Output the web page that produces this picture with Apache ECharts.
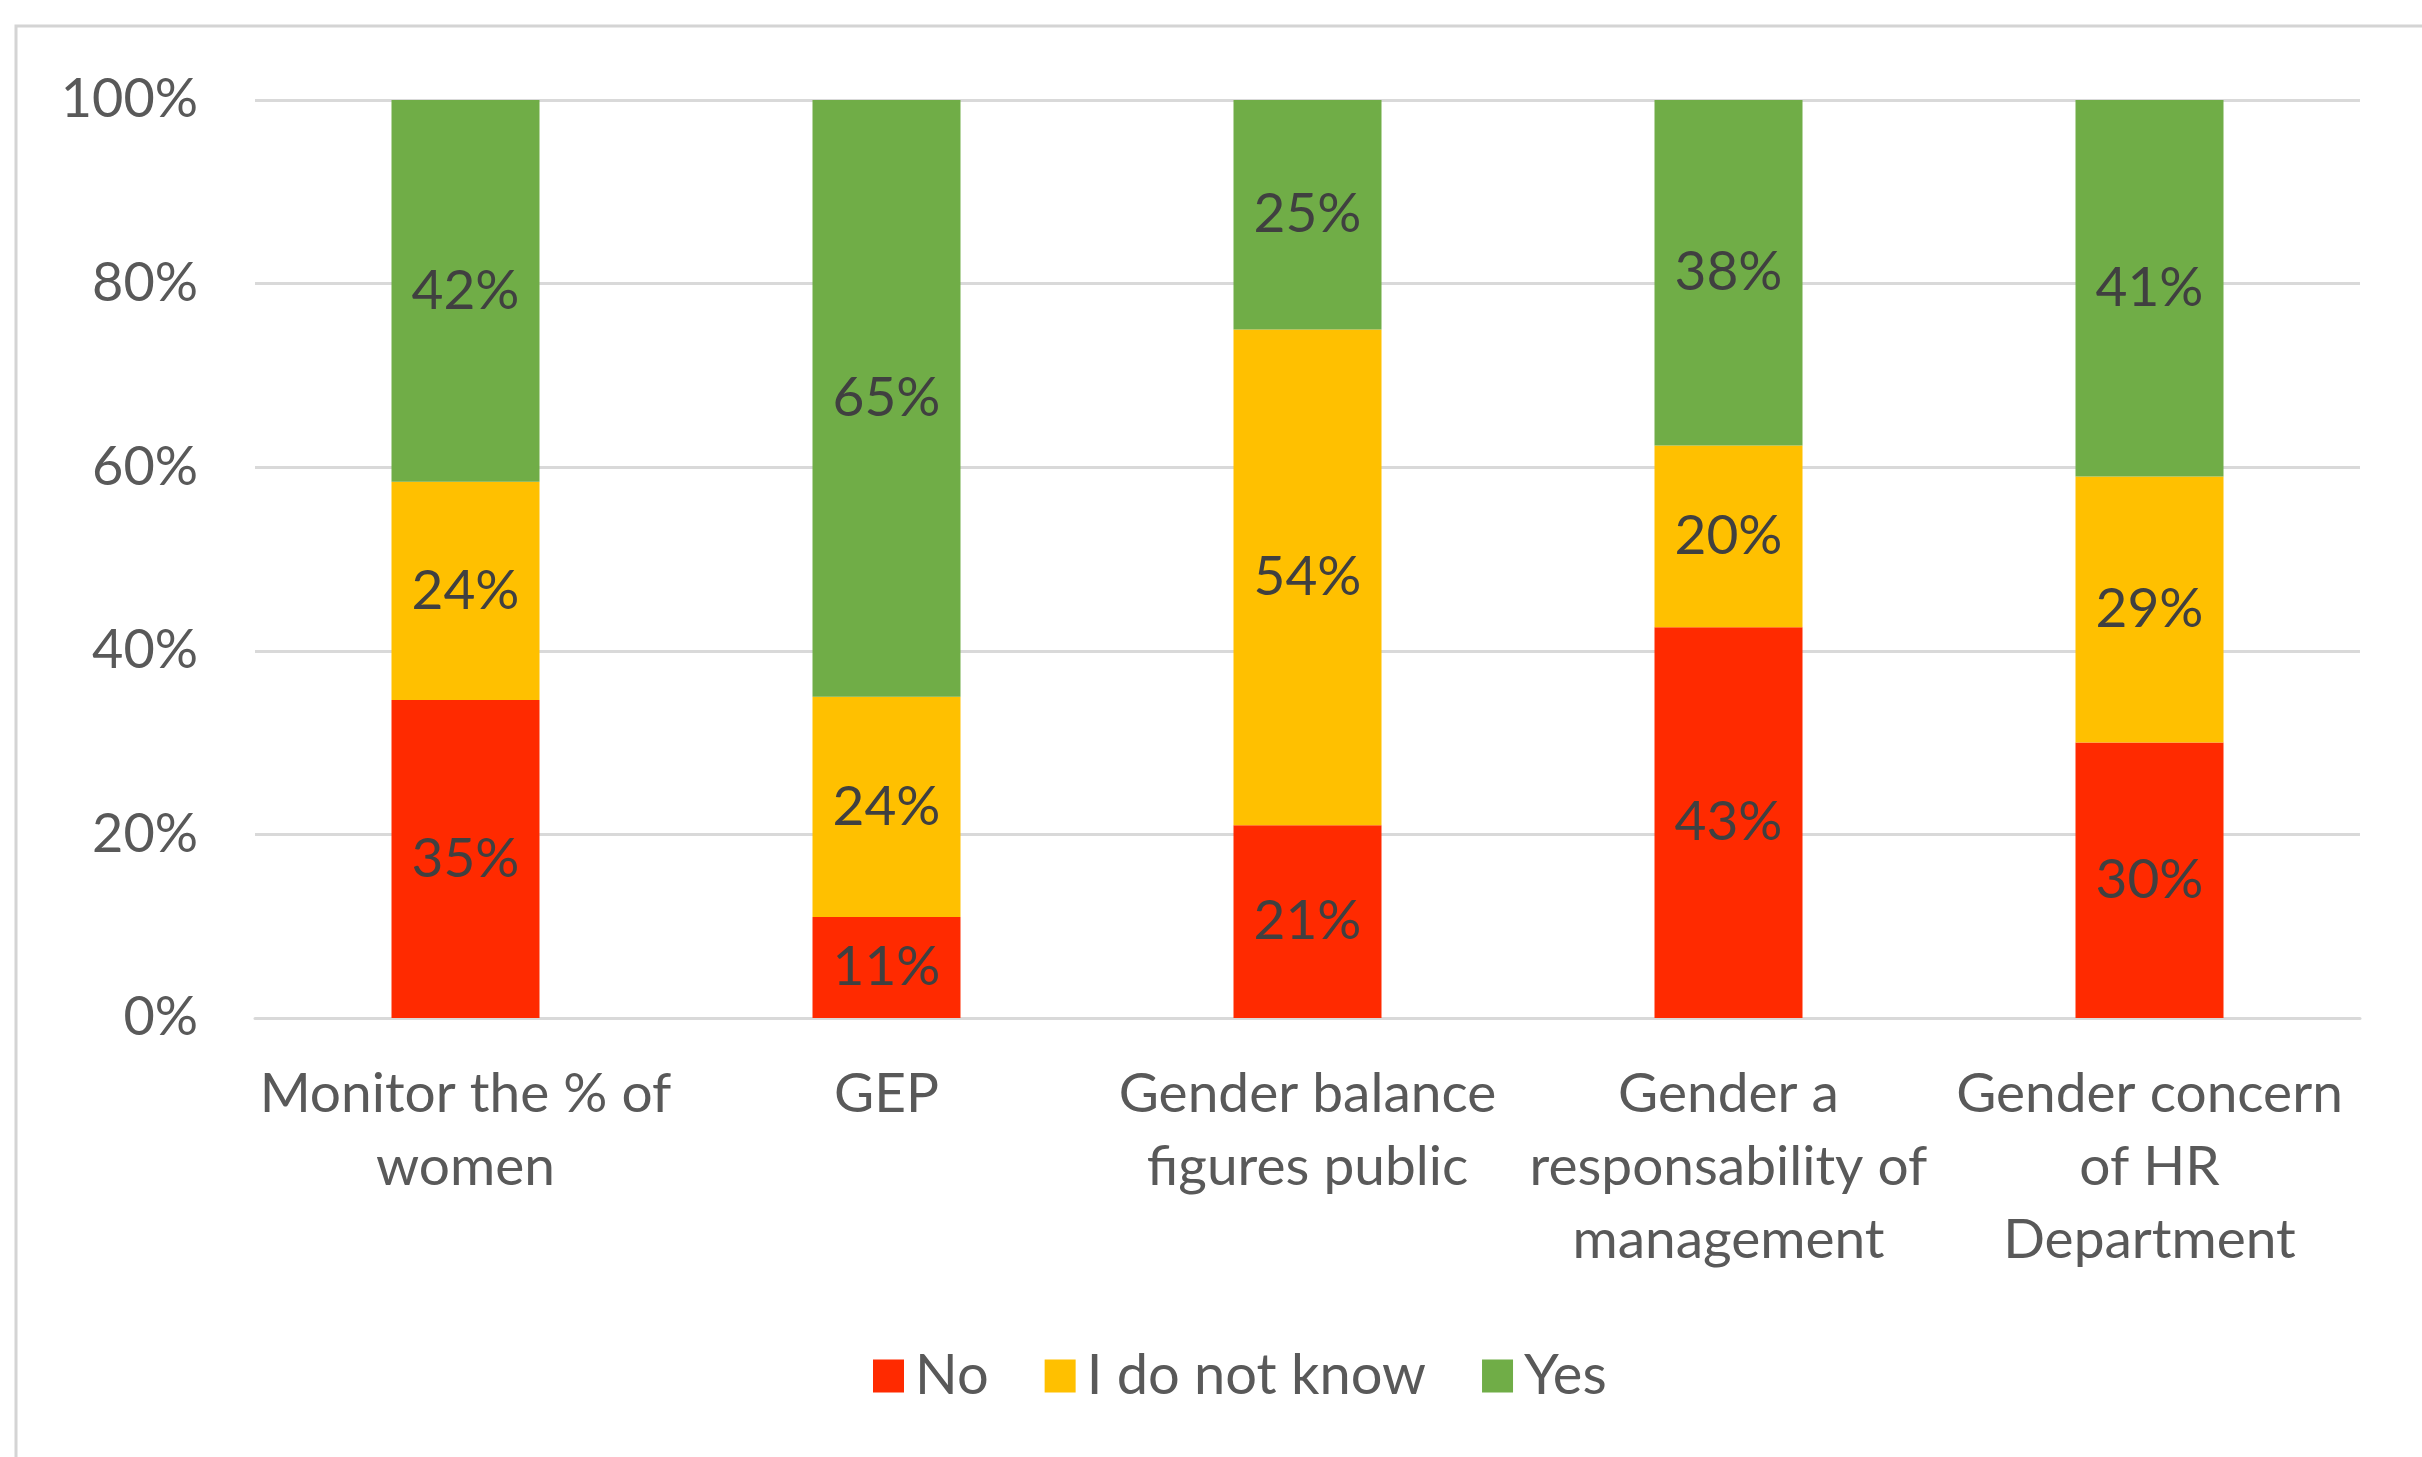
<!DOCTYPE html>
<html>
<head>
<meta charset="utf-8">
<script src="https://cdn.jsdelivr.net/npm/echarts@6/dist/echarts.min.js"></script>
<style>
html,body{margin:0;padding:0;background:#fff;}
#chart{width:2422px;height:1457px;}
</style>
</head>
<body>
<div id="chart"></div>
<script>
const categories = [
  "Monitor the % of\nwomen",
  "GEP",
  "Gender balance\nfigures public",
  "Gender a\nresponsability of\nmanagement",
  "Gender concern\nof HR\nDepartment"
];
const seriesNames = ["No", "I do not know", "Yes"];
const noValues = [35, 11, 21, 43, 30];
const dontKnowValues = [24, 24, 54, 20, 29];
const yesValues = [42, 65, 25, 38, 41];
const yTicks = [0, 20, 40, 60, 80, 100];
const colors = ["#FF2A00", "#FFC000", "#70AD47"];

const raw = [noValues, dontKnowValues, yesValues];
const totals = categories.map((c, i) => raw.reduce((s, arr) => s + arr[i], 0));

const FONT = "Lato";
const FS = 55;

const chart = echarts.init(document.getElementById('chart'), null, {renderer: 'canvas'});
const option = {
  backgroundColor: '#ffffff',
  animation: false,
  graphic: [{
    type: 'rect',
    shape: {x: 16, y: 26, width: 2500, height: 1600},
    style: {fill: 'none', stroke: '#D4D4D4', lineWidth: 3},
    silent: true
  }],
  grid: {left: 255, right: 62, top: 100, bottom: 439, containLabel: false},
  legend: {
    data: seriesNames,
    left: 868,
    top: 1343,
    icon: 'rect',
    itemWidth: 31,
    itemHeight: 33,
    itemGap: 56,
    textStyle: {fontFamily: FONT, fontSize: 56, color: '#595959', padding: [0, 0, 0, 6]}
  },
  xAxis: {
    type: 'category',
    data: categories,
    axisLine: {show: true, lineStyle: {color: '#D9D9D9', width: 3}},
    axisTick: {show: false},
    axisLabel: {
      interval: 0,
      margin: 40,
      fontFamily: FONT,
      fontSize: FS,
      lineHeight: 73,
      color: '#595959'
    }
  },
  yAxis: {
    type: 'value',
    min: 0,
    max: 100,
    interval: 20,
    axisLine: {show: false},
    axisTick: {show: false},
    splitLine: {lineStyle: {color: '#D9D9D9', width: 3}},
    axisLabel: {
      margin: 57,
      fontFamily: FONT,
      fontSize: 54,
      color: '#595959',
      formatter: v => yTicks.includes(v) ? v + '%' : ''
    }
  },
  series: raw.map((arr, k) => ({
    name: seriesNames[k],
    type: 'bar',
    stack: 'total',
    barWidth: 148,
    itemStyle: {color: colors[k]},
    label: {
      show: true,
      position: 'inside',
      fontFamily: FONT,
      fontSize: FS,
      color: '#404040',
      formatter: p => arr[p.dataIndex] + '%'
    },
    data: arr.map((v, i) => v / totals[i] * 100)
  }))
};
chart.setOption(option);
</script>
</body>
</html>
